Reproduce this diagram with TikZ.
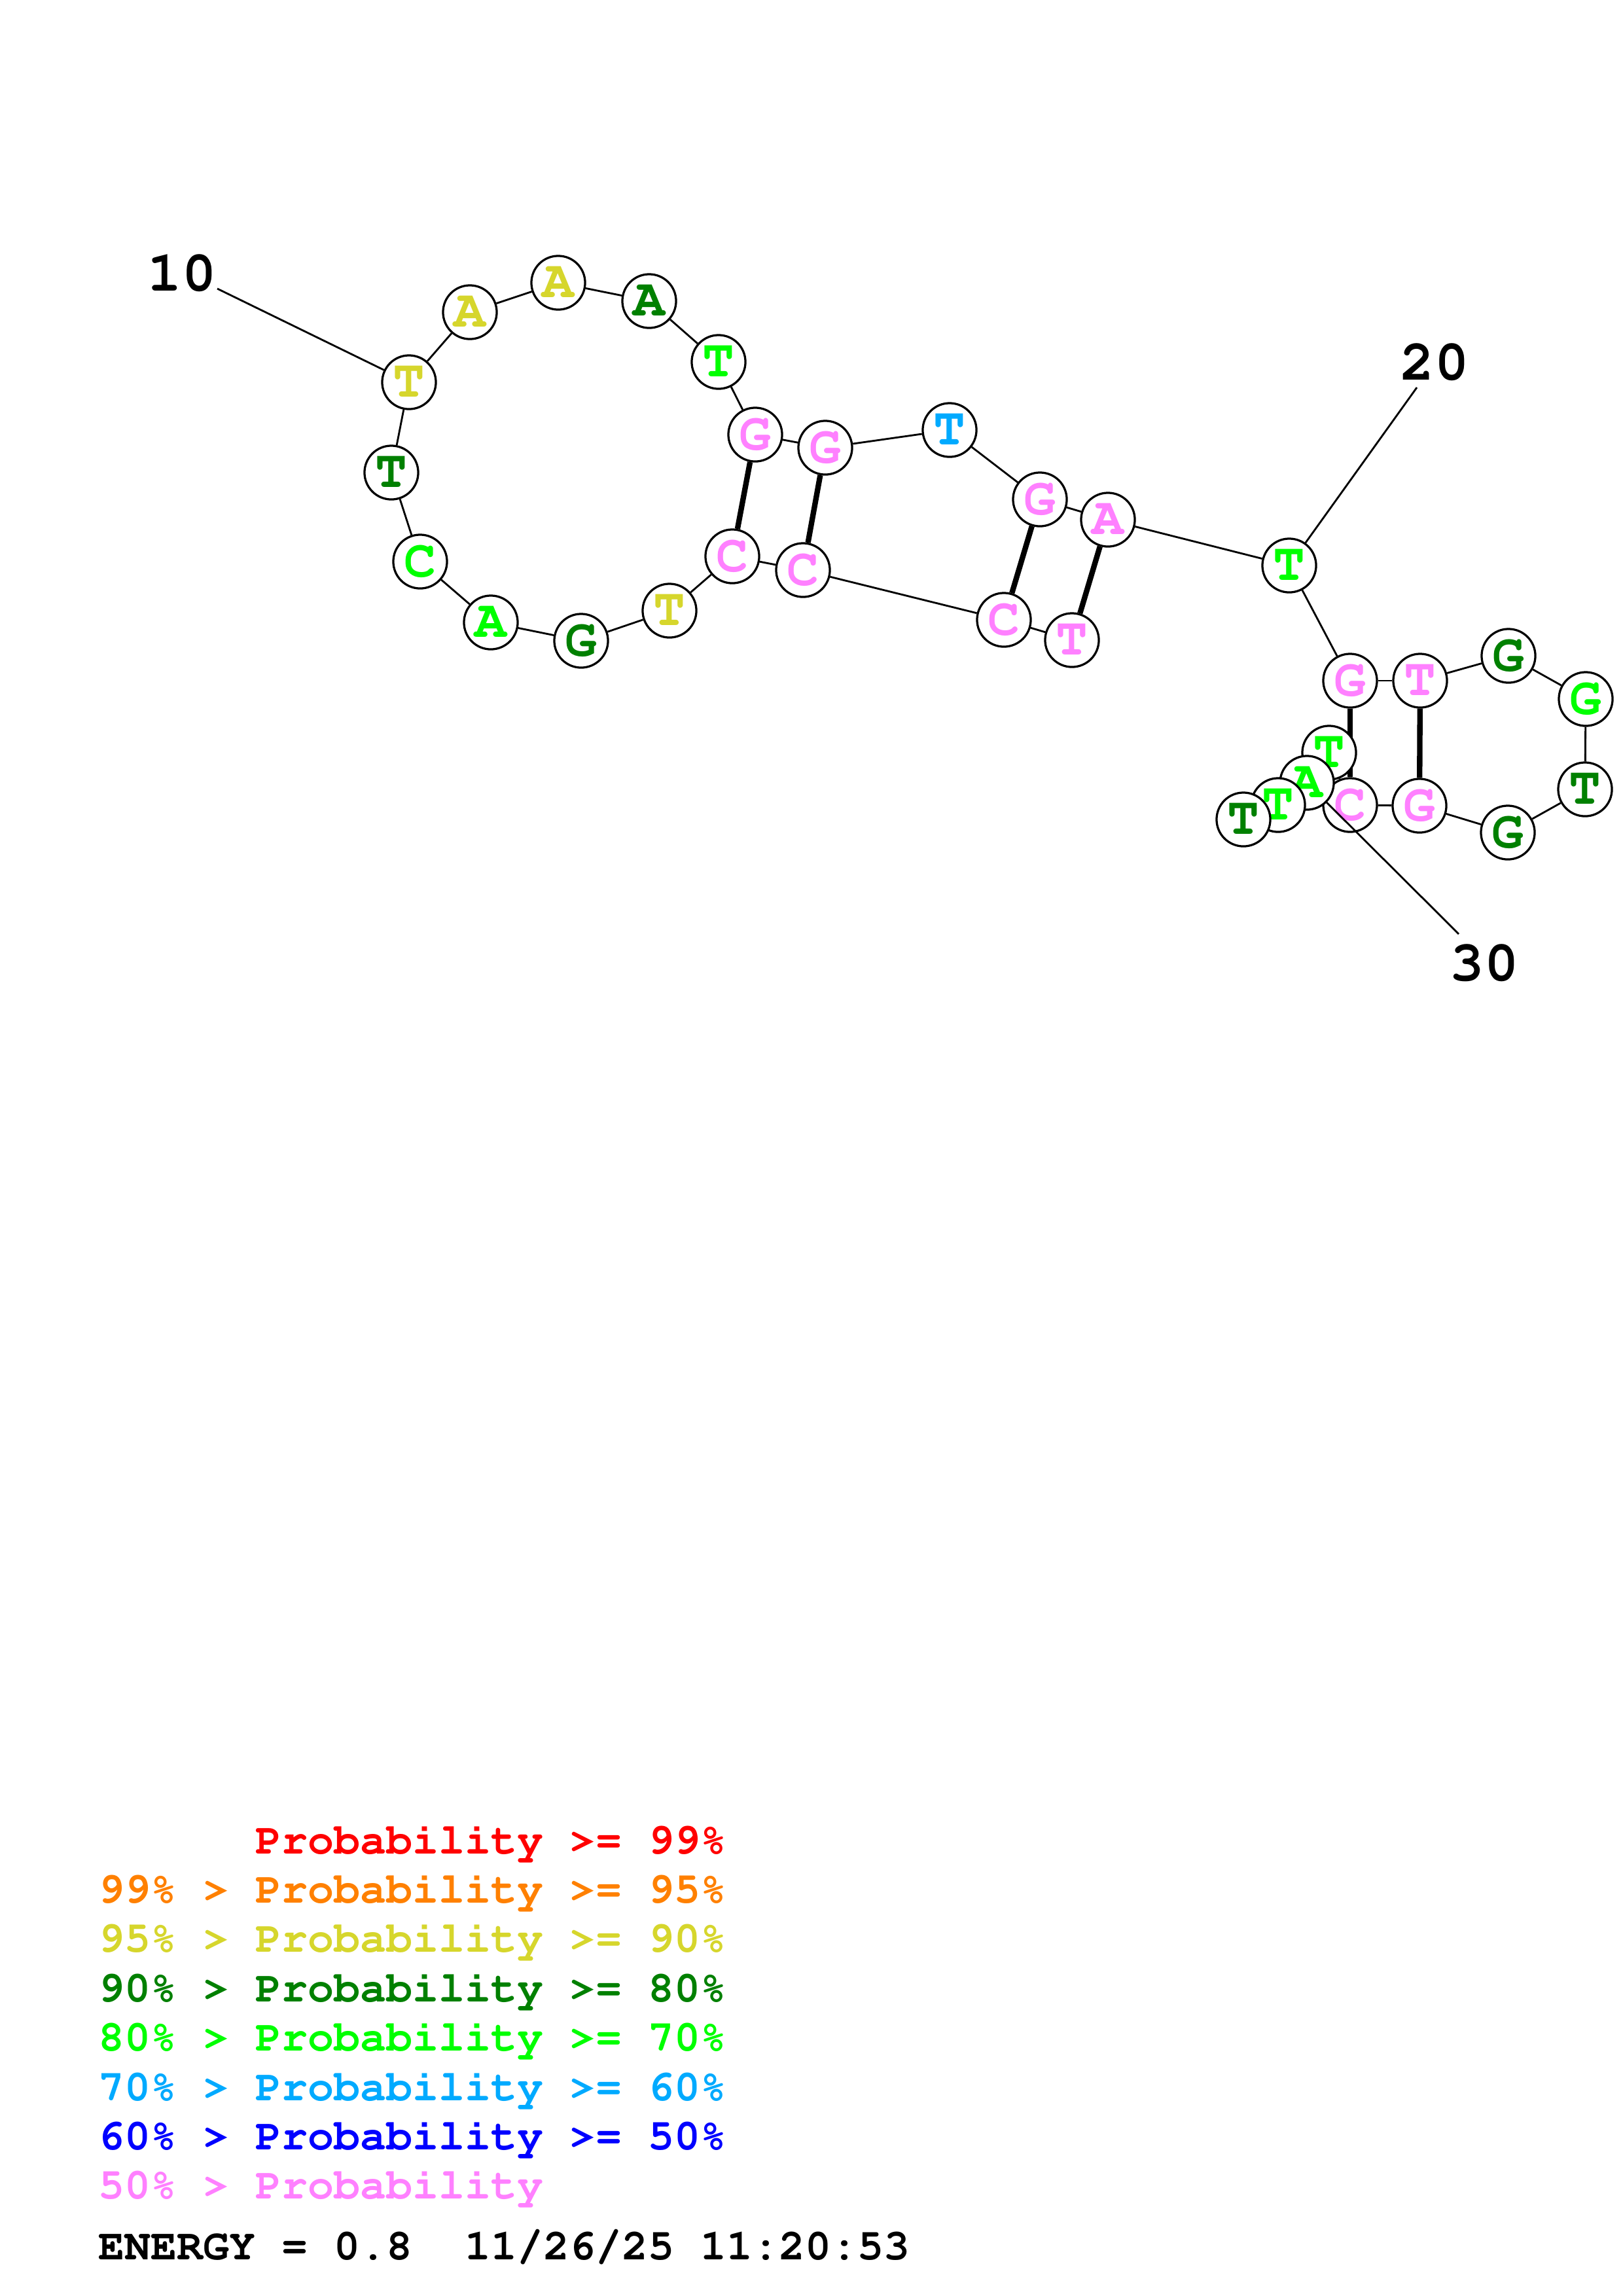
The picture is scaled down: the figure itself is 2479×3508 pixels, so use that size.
\documentclass[tikz,border=0pt]{standalone}
\usepackage[T1]{fontenc}
\pgfdeclarelayer{bg}
\pgfsetlayers{bg,main}
\definecolor{cRed}{RGB}{255,0,0}
\definecolor{cOrange}{RGB}{255,128,0}
\definecolor{cYellow}{RGB}{214,214,44}
\definecolor{cDkGreen}{RGB}{0,128,0}
\definecolor{cGreen}{RGB}{0,255,0}
\definecolor{cLtBlue}{RGB}{0,170,255}
\definecolor{cBlue}{RGB}{0,0,255}
\definecolor{cPink}{RGB}{255,128,255}
\newcommand\courfont[1]{\fontfamily{pcr}\fontseries{b}\fontsize{#1}{#1}\selectfont}
\tikzset{
  base/.style={circle, draw=black, line width=0.78bp, fill=white, minimum size=19.7bp, inner sep=0pt, font=\courfont{19.5bp}},
  bb/.style={line width=0.68bp},
  pairline/.style={line width=2bp},
  numlab/.style={anchor=base, inner sep=0pt, font=\courfont{21bp}},
  leg/.style={anchor=base west, inner sep=0pt, font=\courfont{16bp}}
}
\begin{document}
\begin{tikzpicture}[x=0.24bp, y=-0.24bp]
\useasboundingbox (0,0) rectangle (2479,3508);
\begin{pgfonlayer}{bg}
\fill[white] (0,0) rectangle (2479,3508);
\end{pgfonlayer}
% bases in sequence order
\node[base, text=cPink]    (n1)  at (1638,978)  {T};
\node[base, text=cPink]    (n2)  at (1534,947)  {C};
\node[base, text=cPink]    (n3)  at (1227,871)  {C};
\node[base, text=cPink]    (n4)  at (1119,850)  {C};
\node[base, text=cYellow]  (n5)  at (1023,933)  {T};
\node[base, text=cDkGreen] (n6)  at (888,979)   {G};
\node[base, text=cGreen]   (n7)  at (750,951)   {A};
\node[base, text=cGreen]   (n8)  at (642,858)   {C};
\node[base, text=cDkGreen] (n9)  at (598,722)   {T};
\node[base, text=cYellow]  (n10) at (625,584)   {T};
\node[base, text=cYellow]  (n11) at (718,477)   {A};
\node[base, text=cYellow]  (n12) at (853,432)   {A};
\node[base, text=cDkGreen] (n13) at (992,460)   {A};
\node[base, text=cGreen]   (n14) at (1098,553)  {T};
\node[base, text=cPink]    (n15) at (1154,664)  {G};
\node[base, text=cPink]    (n16) at (1261,684)  {G};
\node[base, text=cLtBlue]  (n17) at (1451,657)  {T};
\node[base, text=cPink]    (n18) at (1589,763)  {G};
\node[base, text=cPink]    (n19) at (1693,794)  {A};
\node[base, text=cGreen]   (n20) at (1970,864)  {T};
\node[base, text=cPink]    (n21) at (2063,1040) {G};
\node[base, text=cPink]    (n22) at (2170,1040) {T};
\node[base, text=cDkGreen] (n23) at (2305,1002) {G};
\node[base, text=cGreen]   (n24) at (2423,1068) {G};
\node[base, text=cDkGreen] (n25) at (2422,1206) {T};
\node[base, text=cDkGreen] (n26) at (2304,1272) {G};
\node[base, text=cPink]    (n27) at (2169,1231) {G};
\node[base, text=cPink]    (n28) at (2063,1230) {C};
\node[base, text=cGreen]   (n29) at (2031,1150) {T};
\node[base, text=cGreen]   (n30) at (1997,1196) {A};
\node[base, text=cGreen]   (n31) at (1953,1230) {T};
\node[base, text=cDkGreen] (n32) at (1900,1252) {T};
% backbone and pairs behind the bases
\begin{pgfonlayer}{bg}
\foreach \a/\b in {1/2,2/3,3/4,4/5,5/6,6/7,7/8,8/9,9/10,10/11,11/12,12/13,13/14,14/15,15/16,16/17,17/18,18/19,19/20,20/21,21/22,22/23,23/24,24/25,25/26,26/27,27/28,28/29,29/30,30/31,31/32}
  \draw[bb] (n\a) -- (n\b);
\foreach \a/\b in {4/15,3/16,2/18,1/19,21/28,22/27}
  \draw[pairline] (n\a) -- (n\b);
\end{pgfonlayer}
% position labels
\node[numlab] (l10) at (278.5,444) {10};
\node[numlab] (l20) at (2192,580) {20};
\node[numlab] (l30) at (2268,1498) {30};
\coordinate (e10) at (332,441);
\coordinate (e20) at (2165,592);
\coordinate (e30) at (2229,1427);
\draw[bb] (n10) -- (e10);
\draw[bb] (n20) -- (e20);
\draw[bb] (n30) -- (e30);
% legend
\node[leg, text=cRed]     (g1) at (390,2832)    {Probability >= 99\%};
\node[leg, text=cOrange]  (g2) at (150,2907.4)  {99\% > Probability >= 95\%};
\node[leg, text=cYellow]  (g3) at (150,2982.8)  {95\% > Probability >= 90\%};
\node[leg, text=cDkGreen] (g4) at (150,3058.2)  {90\% > Probability >= 80\%};
\node[leg, text=cGreen]   (g5) at (150,3133.6)  {80\% > Probability >= 70\%};
\node[leg, text=cLtBlue]  (g6) at (150,3209.0)  {70\% > Probability >= 60\%};
\node[leg, text=cBlue]    (g7) at (150,3284.4)  {60\% > Probability >= 50\%};
\node[leg, text=cPink]    (g8) at (150,3359.8)  {50\% > Probability};
\node[leg, text=black]    (en) at (150,3452.6)  {ENERGY = 0.8\ \ 11/26/25 11:20:53};
\end{tikzpicture}
\end{document}
